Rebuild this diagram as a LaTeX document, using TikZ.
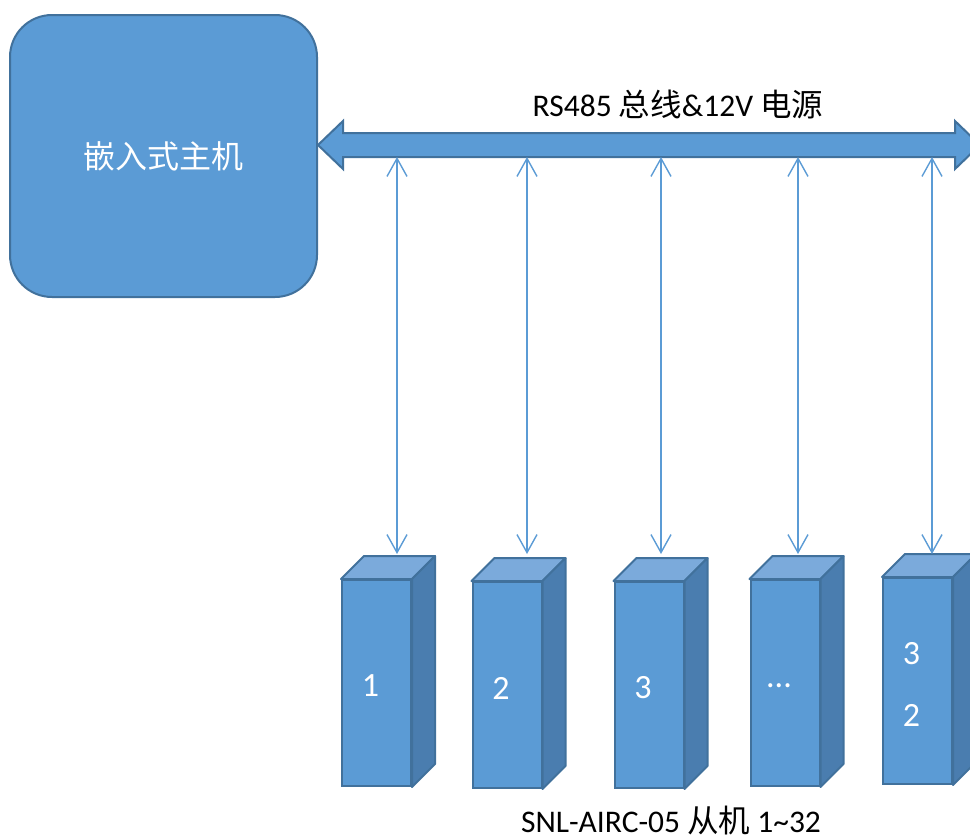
\documentclass[tikz,border=0pt]{standalone}
\usepackage{fontspec}
\setmainfont{Carlito}
\newfontfamily\cjk{Noto Sans CJK SC}
\usetikzlibrary{arrows.meta,calc}
\definecolor{fillblue}{HTML}{5B9BD5}
\definecolor{edgeblue}{HTML}{41719C}
\definecolor{sideblue}{HTML}{4A7DAF}
\definecolor{topblue}{HTML}{7BAADB}
\newcommand\cubebox[5]{%
  \node[frontface] (#1) at (#2,#3) {};
  \draw[cubeedge, fill=topblue] (#1.north west) -- ++(23,-23) -- ($(#1.north east)+(23,-23)$) -- (#1.north east) -- cycle;
  \draw[cubeedge, fill=sideblue] (#1.north east) -- ++(23,-23) -- ($(#1.south east)+(23,-23)$) -- (#1.south east) -- cycle;
  \node[numlabel] (#1-lab) at ($(#1.center)+(-6,3)$) {#4};
}
\begin{document}
\begin{tikzpicture}[x=1pt,y=-1pt,
  host/.style={draw=edgeblue, fill=fillblue, line width=2pt, rounded corners=42pt,
    minimum width=307pt, minimum height=282pt, inner sep=0pt, text=white,
    font=\cjk\fontsize{32}{38}\selectfont},
  busarrow/.style={draw=edgeblue, fill=fillblue, line width=2pt, line join=miter},
  frontface/.style={draw=edgeblue, fill=fillblue, line width=2pt,
    minimum width=69pt, minimum height=206pt, inner sep=0pt},
  cubeedge/.style={draw=edgeblue, line width=2pt, line join=round},
  numlabel/.style={text=white, inner sep=0pt, align=center, font=\fontsize{34}{62}\selectfont},
  conn/.style={draw=fillblue, line width=1.4pt, {Straight Barb[length=18pt,width=20pt]}-{Straight Barb[length=18pt,width=20pt]}},
  caption/.style={inner sep=0pt, anchor=base, text=black, font=\fontsize{31.5}{36}\selectfont}
]
\useasboundingbox (0,0) rectangle (970,838);
\clip (0,0) rectangle (970,838);

% host
\node[host] (host) at (163.5,156) {嵌入式主机};

% bus double arrow
\draw[busarrow] (318,145) -- (343,121) -- (343,133) -- (955,133) -- (955,121)
  -- (980,145) -- (955,169) -- (955,157) -- (343,157) -- (343,169) -- cycle;
\node[caption] (buslabel) at (678,116) {RS485 {\cjk 总线}\&12V {\cjk 电源}};

% slaves
\cubebox{s1}{376.5}{683}{1}{}
\cubebox{s2}{507}{685}{2}{}
\cubebox{s3}{649}{685}{3}{}
\cubebox{s4}{785}{683}{...}{}
\cubebox{s5}{917.5}{681}{3\\2}{}

% connection points
\foreach \i/\x in {1/397,2/527,3/661,4/798,5/932}{
  \coordinate (t\i) at (\x,157);
  \coordinate (a\i) at (\x,554);
}
\foreach \i in {1,...,5}{
  \draw[conn] (t\i) -- (a\i);
}

\node[caption] (slavelabel) at (671,832) {SNL-AIRC-05 {\cjk 从机} 1\textasciitilde32};
\end{tikzpicture}
\end{document}
